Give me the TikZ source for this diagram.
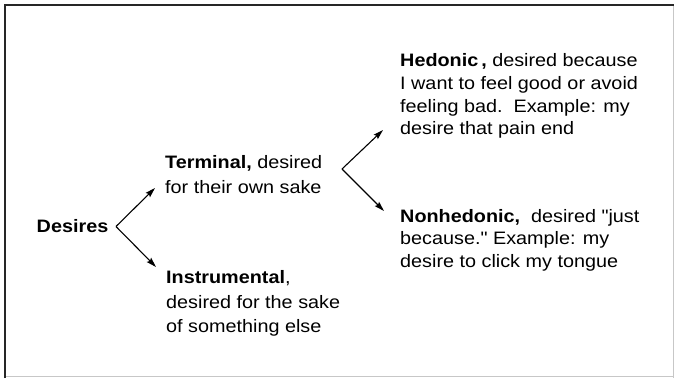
\documentclass[tikz,border=0pt]{standalone}
\usepackage{fontspec}
\setmainfont{Liberation Sans}[FakeStretch=1.1, Ligatures=TeXOff]
\usepackage{tikz}
\usetikzlibrary{positioning,arrows.meta}

\begin{document}
\begin{tikzpicture}[
            x=1pt, y=1pt,
            label/.style={
                inner sep=0pt,
                align=left,
                anchor=base west,
                font=\fontsize{18}{24.3}\selectfont
            },
            tight/.style={font=\fontsize{18}{22.8}\selectfont},
            arrow/.style={-{Stealth[length=10pt,width=6pt,inset=1.5pt]}, line width=1.1pt},
            frame/.style={line width=2pt, draw=black!85},
            faint/.style={line width=1pt, draw=black!22}
        ]
        \useasboundingbox (0,0) rectangle (674,378);

        % Rahmen
        \draw[faint] (5,1.5) -- (674,1.5);
        \draw[faint] (673,373) -- (673,0);
        \draw[frame] (5,0) -- (5,373) -- (674,373);

        % Knoten (base = letzte Zeile)
        \node[label, anchor=east, inner xsep=7.5pt] (desires) at (116,151.5) {\textbf{Desires}};

        \node[label] (terminal) at (165,185) {
            \textbf{Terminal,} desired\\
            for their own sake
        };

        \node[label] (instrumental) at (166,45.5) {
            \textbf{Instrumental},\\
            desired for the sake\\
            of something else
        };

        \node[label, tight] (hedonic) at (400,243) {
            \textbf{Hedonic\,,} desired because\\
            I want to feel good or avoid\\
            feeling bad.\ \ Example: my\\
            desire that pain end
        };

        \node[label, tight] (nonhedonic) at (400,110.4) {
            \textbf{Nonhedonic,}\ \ desired "just\\
            because." Example: my\\
            desire to click my tongue
        };

        % Pfeilspitzen
        \coordinate (terminal-in) at (155,190);
        \coordinate (instrumental-in) at (156,111);
        \coordinate (terminal-out) at (342,209);
        \coordinate (hedonic-in) at (383,248);
        \coordinate (nonhedonic-in) at (384,167);

        \draw[arrow] (desires.east) -- (terminal-in);
        \draw[arrow] (desires.east) -- (instrumental-in);
        \draw[arrow] (terminal-out) -- (hedonic-in);
        \draw[arrow] (terminal-out) -- (nonhedonic-in);

        \end{tikzpicture}
\end{document}
